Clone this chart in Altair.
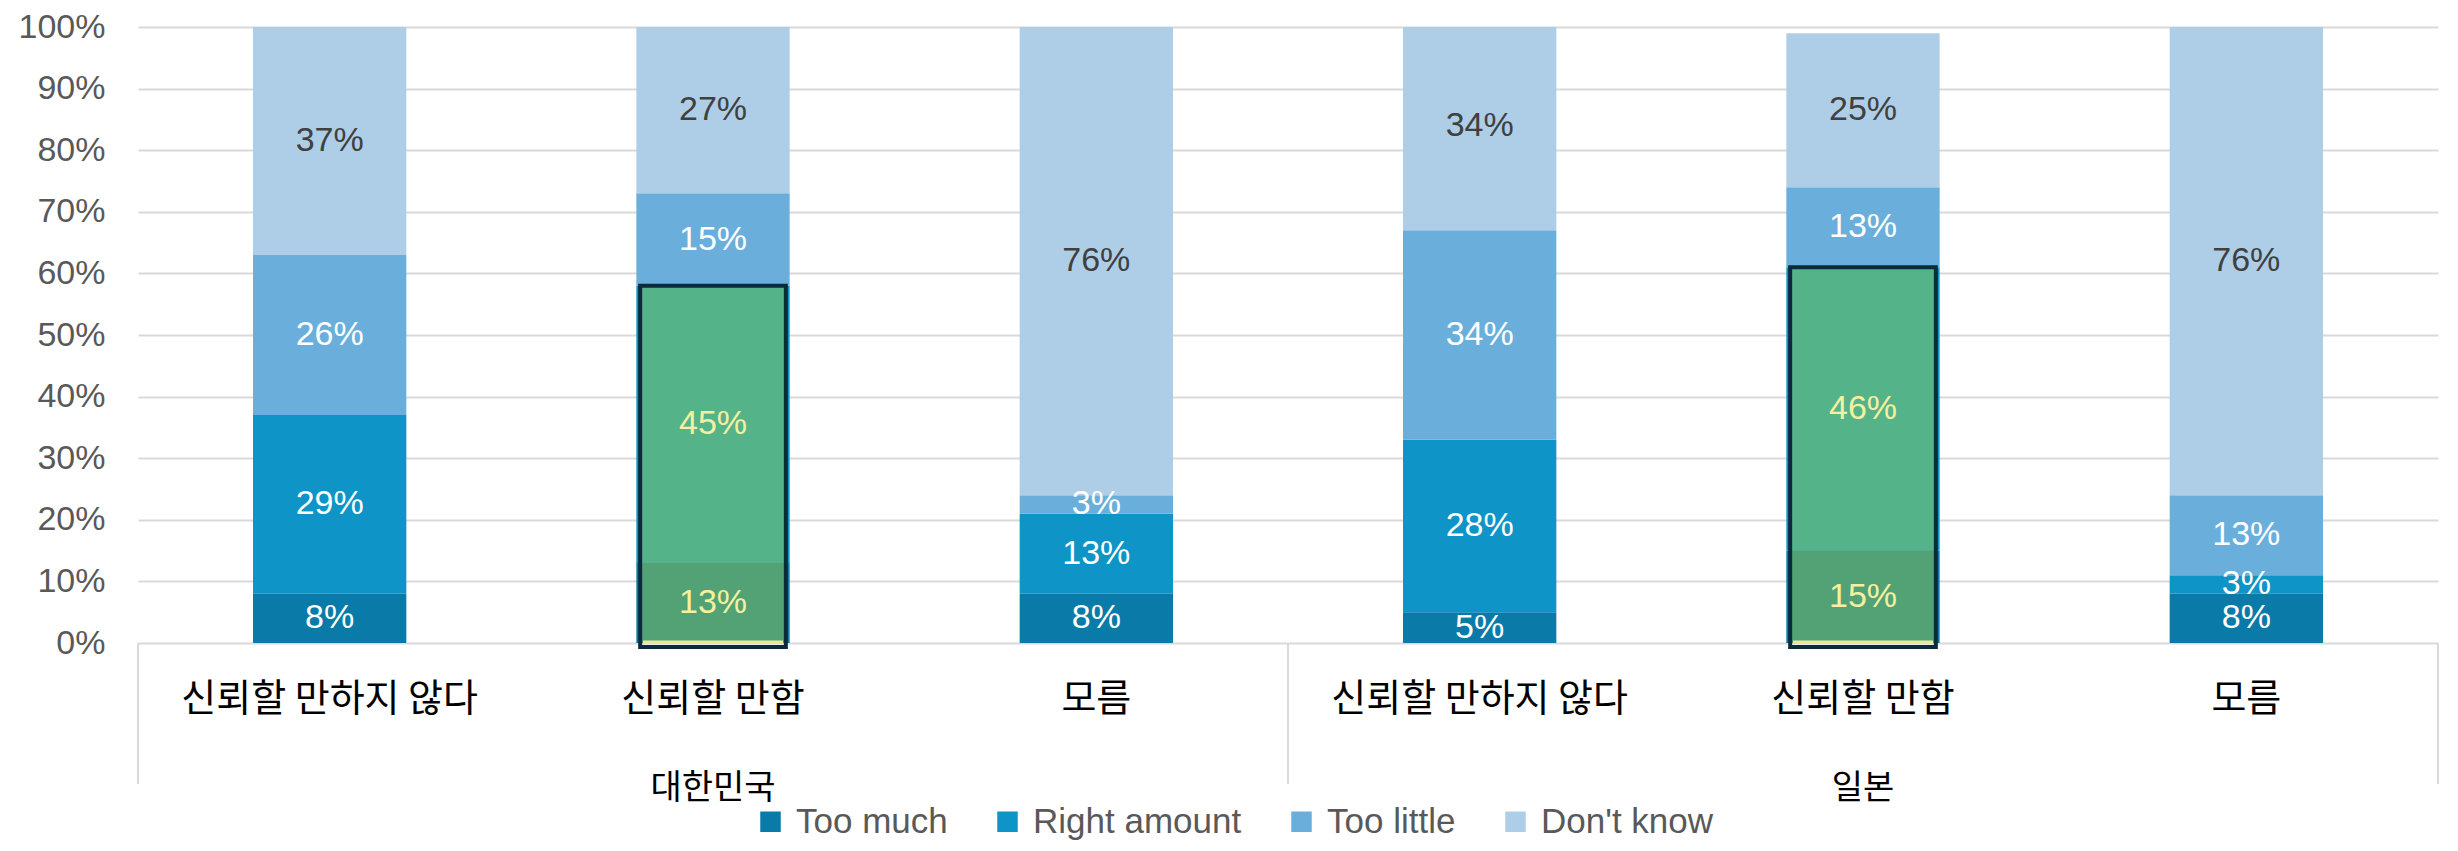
import altair as alt
import pandas as pd

countries = ["대한민국", "대한민국", "대한민국", "일본", "일본", "일본"]
answers = ["신뢰할 만하지 않다", "신뢰할  만함", "모름", "신뢰할 만하지 않다", "신뢰할 만함", "모름"]
series = ["Too much", "Right amount", "Too little", "Don't know"]
too_much = [8, 13, 8, 5, 15, 8]
right_amount = [29, 45, 13, 28, 46, 3]
too_little = [26, 15, 3, 34, 13, 13]
dont_know = [37, 27, 76, 34, 25, 76]
highlight_answers = ["신뢰할  만함", "신뢰할 만함"]
highlight_series = ["Too much", "Right amount"]
group_labels = ["대한민국", "일본"]
y_ticks = [0, 10, 20, 30, 40, 50, 60, 70, 80, 90, 100]

colors = ["#0A7BA8", "#0E94C6", "#6AAFDC", "#AECEE7"]

W, H = 2300, 616
PAD_OUTER = 0.3
STEP = W / len(answers)

keys = [f"{c}|{a}" for c, a in zip(countries, answers)]
values = [too_much, right_amount, too_little, dont_know]

rows = []
for i, k in enumerate(keys):
    for j, s in enumerate(series):
        hl = 1 if (answers[i] in highlight_answers and s in highlight_series) else 0
        rows.append({"key": k, "series": s, "ord": j, "value": values[j][i], "hl": hl})
df = pd.DataFrame(rows)

box_rows = []
for i, k in enumerate(keys):
    if answers[i] in highlight_answers:
        box_rows.append({"key": k, "top": too_much[i] + right_amount[i]})
df_box = pd.DataFrame(box_rows)

grp_rows = []
for g in group_labels:
    gk = [k for k, c in zip(keys, countries) if c == g]
    grp_rows.append({"key": gk[len(gk) // 2], "group": g})
df_grp = pd.DataFrame(grp_rows)

starts = pd.DataFrame({"key": [[k for k, c in zip(keys, countries) if c == g][0] for g in group_labels]})
ends = pd.DataFrame({"key": [keys[-1]]})

x_axis = alt.Axis(title=None, labelExpr="split(datum.value, '|')[1]", ticks=False, domain=False,
                  labelPadding=37, labelFontSize=38, labelFont="Noto Sans CJK KR",
                  labelColor="#000000", labelAngle=0, grid=False, labelLimit=0)
x_scale = alt.Scale(paddingInner=0.6, paddingOuter=PAD_OUTER)
X = alt.X("key:N", sort=keys, scale=x_scale, axis=x_axis)

y_scale = alt.Scale(domain=[0, 100], nice=False)
y_axis = alt.Axis(title=None, values=y_ticks, labelExpr="datum.value + '%'", ticks=False,
                  domain=False, labelPadding=33, labelFontSize=34, labelFont="Liberation Sans",
                  labelColor="#595959", gridColor="#D9D9D9", gridWidth=2)

def Y(field):
    return alt.Y(field, scale=y_scale, axis=y_axis)

base = alt.Chart(df).transform_stack(
    stack="value", groupby=["key"], sort=[alt.SortField("ord", "ascending")], as_=["y0", "y1"]
).transform_calculate(mid="(datum.y0 + datum.y1) / 2", lbl="datum.value + '%'")

bars = base.mark_bar(clip=True).encode(
    x=X, y=Y("y0:Q"), y2="y1:Q",
    color=alt.Color("series:N", scale=alt.Scale(domain=series, range=colors),
                    legend=alt.Legend(orient="none", legendX=615, legendY=777, direction="horizontal",
                                      title=None, symbolType="square", symbolSize=420,
                                      symbolStrokeWidth=0, labelFontSize=35,
                                      labelFont="Liberation Sans", labelColor="#595959",
                                      labelOffset=8, columnPadding=42, symbolOpacity=1,
                                      labelLimit=0)),
)

green = base.transform_filter("datum.hl == 1").mark_bar(
    clip=True, width=alt.RelativeBandSize(0.93)
).encode(
    x=X, y=Y("y0:Q"), y2="y1:Q",
    fill=alt.when(alt.datum.series == "Too much").then(alt.value("#53A275")).otherwise(alt.value("#55B38A")),
)

yline = alt.Chart(df_box).mark_tick(size=140, thickness=3, yOffset=-1, color="#EDE79B", opacity=1).encode(
    x=X, y=alt.Y(datum=0, scale=y_scale, axis=y_axis)
)

box = alt.Chart(df_box).mark_bar(
    fillOpacity=0, stroke="#0B2A3A", strokeWidth=4, width=alt.RelativeBandSize(0.95), y2Offset=4
).encode(x=X, y=Y("top:Q"), y2=alt.datum(0))

labels = base.mark_text(font="Liberation Sans", fontSize=34, baseline="middle").encode(
    x=X, y=Y("mid:Q"), text="lbl:N",
    fill=alt.when(alt.datum.series == "Don't know").then(alt.value("#404040"))
    .when(alt.datum.hl == 1).then(alt.value("#F5F0A0"))
    .otherwise(alt.value("#FFFFFF")),
)

groups = alt.Chart(df_grp).mark_text(font="Noto Sans CJK KR", fontSize=34, color="#000000",
                                     baseline="middle").encode(
    x=X, y=alt.value(H + 146), text="group:N"
)

sep_start = alt.Chart(starts).mark_rule(color="#D9D9D9", strokeWidth=2,
                                        xOffset=-PAD_OUTER * STEP).encode(
    x=alt.X("key:N", sort=keys, scale=x_scale, axis=x_axis, bandPosition=0),
    y=alt.value(H), y2=alt.value(H + 141)
)
sep_end = alt.Chart(ends).mark_rule(color="#D9D9D9", strokeWidth=2,
                                    xOffset=PAD_OUTER * STEP).encode(
    x=alt.X("key:N", sort=keys, scale=x_scale, axis=x_axis, bandPosition=1),
    y=alt.value(H), y2=alt.value(H + 141)
)

chart = alt.layer(bars, green, yline, box, labels, groups, sep_start, sep_end).properties(
    width=W, height=H,
    autosize=alt.AutoSizeParams(type="none"),
    padding={"left": 130, "top": 19, "right": 10, "bottom": 200},
).configure_view(stroke=None)

chart.save("out.html", embed_options={"renderer": "svg", "actions": False})
